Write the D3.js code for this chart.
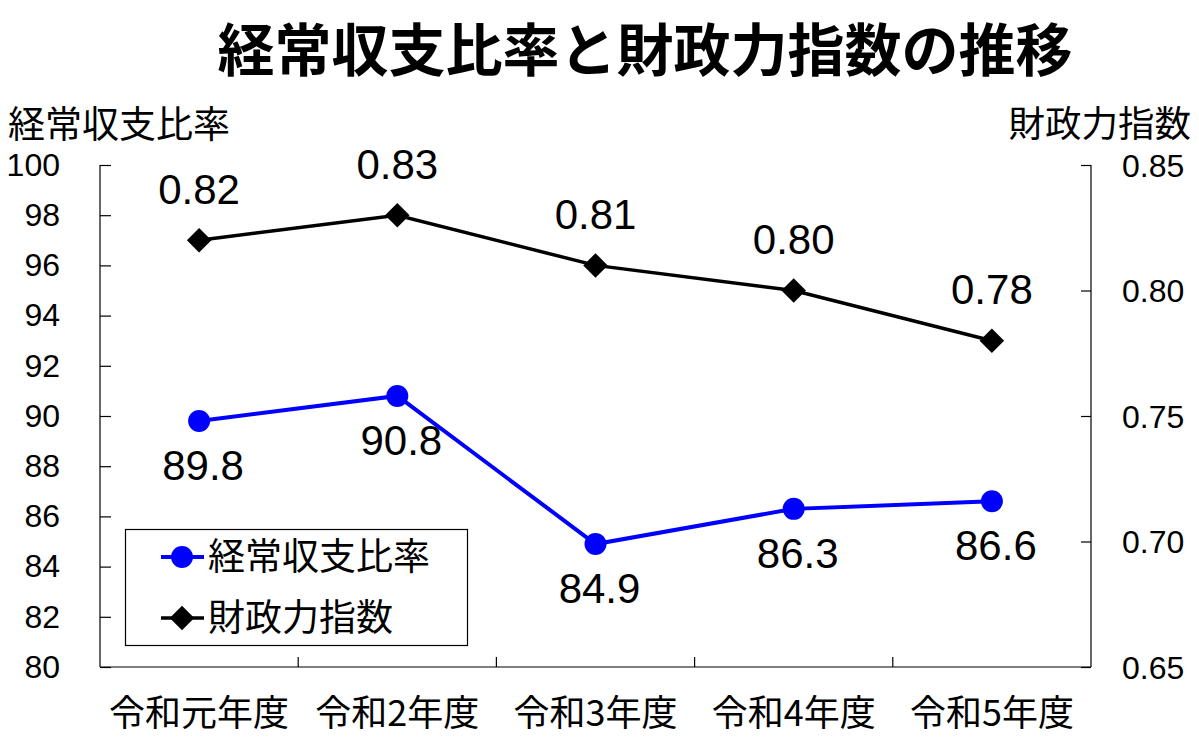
<!DOCTYPE html>
<html><head><meta charset="utf-8">
<script src="https://cdn.jsdelivr.net/npm/d3@7"></script>
<style>body{margin:0;background:#fff}svg{display:block}</style>
</head><body>
<svg id="c" width="1199" height="741"></svg>
<script>
const categories = ["令和元年度","令和2年度","令和3年度","令和4年度","令和5年度"];
const ratioValues = [89.8, 90.8, 84.9, 86.3, 86.6];
const indexValues = [0.82, 0.83, 0.81, 0.80, 0.78];
const leftTicks = [80,82,84,86,88,90,92,94,96,98,100];
const rightTicks = [0.65,0.70,0.75,0.80,0.85];
const seriesNames = ["経常収支比率","財政力指数"];
const titleText = "経常収支比率と財政力指数の推移";

const svg = d3.select("#c");
const L = 100, R = 1091, T = 165, B = 667;
const NUM = "'Liberation Sans', Arial, sans-serif";
const CJK = "'Noto Sans CJK JP', sans-serif";

const x = d3.scaleBand().domain(categories).range([L, R]).paddingInner(0).paddingOuter(0);
const yL = d3.scaleLinear().domain([80, 100]).range([B, T]);
const yR = d3.scaleLinear().domain([0.65, 0.85]).range([B, T]);
const cx = d => x(d) + x.bandwidth() / 2;

// Left axis
const gL = svg.append("g").attr("transform", `translate(${L},0)`)
  .call(d3.axisLeft(yL).tickValues(leftTicks).tickSize(-11).tickPadding(0).tickFormat(d3.format("d")));
gL.select(".domain").attr("d", `M0,${T}V${B}`).attr("stroke", "#000").attr("stroke-width", 1.2);
gL.selectAll(".tick line").attr("stroke", "#000").attr("stroke-width", 1.2);
gL.selectAll(".tick text").attr("x", -40).attr("font-family", NUM).attr("font-size", 32).attr("fill", "#000");

// Right axis
const gR = svg.append("g").attr("transform", `translate(${R},0)`)
  .call(d3.axisRight(yR).tickValues(rightTicks).tickSize(-10).tickPadding(0).tickFormat(d3.format(".2f")));
gR.select(".domain").attr("d", `M0,${T}V${B}`).attr("stroke", "#000").attr("stroke-width", 1.2);
gR.selectAll(".tick text").attr("x", 31).attr("y", 1).attr("font-family", NUM).attr("font-size", 32).attr("fill", "#000");
gR.selectAll(".tick line").attr("stroke", "#000").attr("stroke-width", 1.2);

// Bottom axis
const gB = svg.append("g").attr("transform", `translate(0,${B})`)
  .call(d3.axisBottom(x).tickSize(0).tickPadding(0));
gB.select(".domain").attr("d", `M${L},0H${R}`).attr("stroke", "#000").attr("stroke-width", 1.2);
gB.selectAll(".tick text").attr("y", 46).attr("dy", "0.35em").attr("font-family", CJK).attr("font-size", 36).attr("fill", "#000");
// boundary ticks pointing up
svg.append("g").selectAll("line").data(categories.slice(1)).join("line")
  .attr("x1", d => x(d)).attr("x2", d => x(d)).attr("y1", B).attr("y2", B - 10)
  .attr("stroke", "#000").attr("stroke-width", 1.2);

// Title
svg.append("text").attr("x", 645).attr("y", 51).attr("dy", "0.35em").attr("text-anchor", "middle")
  .attr("font-family", CJK).attr("font-weight", "bold").attr("font-size", 57).text(titleText);
// axis titles
svg.append("text").attr("x", 8).attr("y", 125).attr("dy", "0.35em")
  .attr("font-family", CJK).attr("font-size", 37).text(seriesNames[0]);
svg.append("text").attr("x", 1191).attr("y", 124).attr("dy", "0.35em").attr("text-anchor", "end")
  .attr("font-family", CJK).attr("font-size", 36.5).text(seriesNames[1]);

// Ratio line (blue)
const lineL = d3.line().x((d, i) => cx(categories[i])).y(d => yL(d));
svg.append("path").datum(ratioValues).attr("d", lineL).attr("fill", "none")
  .attr("stroke", "#0000ff").attr("stroke-width", 4);
svg.append("g").selectAll("circle").data(ratioValues).join("circle")
  .attr("cx", (d, i) => cx(categories[i])).attr("cy", d => yL(d)).attr("r", 11).attr("fill", "#0000ff");
svg.append("g").selectAll("text").data(ratioValues).join("text")
  .attr("x", (d, i) => cx(categories[i]) + 4).attr("y", d => yL(d) + 44).attr("dy", "0.35em")
  .attr("text-anchor", "middle").attr("font-family", NUM).attr("font-size", 42)
  .text(d => d3.format(".1f")(d));

// Index line (black)
const lineR = d3.line().x((d, i) => cx(categories[i])).y(d => yR(d));
svg.append("path").datum(indexValues).attr("d", lineR).attr("fill", "none")
  .attr("stroke", "#000").attr("stroke-width", 3.5);
const diamond = d3.symbol().type(d3.symbolSquare).size(300);
svg.append("g").selectAll("path").data(indexValues).join("path")
  .attr("d", diamond)
  .attr("transform", (d, i) => `translate(${cx(categories[i])},${yR(d)}) rotate(45)`)
  .attr("fill", "#000");
svg.append("g").selectAll("text").data(indexValues).join("text")
  .attr("x", (d, i) => cx(categories[i])).attr("y", d => yR(d) - 51).attr("dy", "0.35em")
  .attr("text-anchor", "middle").attr("font-family", NUM).attr("font-size", 42)
  .text(d => d3.format(".2f")(d));

// Legend
const lg = svg.append("g");
lg.append("rect").attr("x", 125.5).attr("y", 529.5).attr("width", 342).attr("height", 116)
  .attr("fill", "#fff").attr("stroke", "#000").attr("stroke-width", 1.2);
const ly = [557, 618];
lg.append("line").attr("x1", 161).attr("x2", 204).attr("y1", ly[0]).attr("y2", ly[0]).attr("stroke", "#0000ff").attr("stroke-width", 4);
lg.append("circle").attr("cx", 182).attr("cy", ly[0]).attr("r", 11).attr("fill", "#0000ff");
lg.append("line").attr("x1", 161).attr("x2", 204).attr("y1", ly[1]).attr("y2", ly[1]).attr("stroke", "#000").attr("stroke-width", 3.5);
lg.append("path").attr("d", diamond).attr("transform", `translate(182,${ly[1]}) rotate(45)`).attr("fill", "#000");
lg.selectAll("text.lt").data(seriesNames).join("text").attr("class", "lt")
  .attr("x", 208).attr("y", (d, i) => ly[i]).attr("dy", "0.35em")
  .attr("font-family", CJK).attr("font-size", 37).text(d => d);
</script>
</body></html>
